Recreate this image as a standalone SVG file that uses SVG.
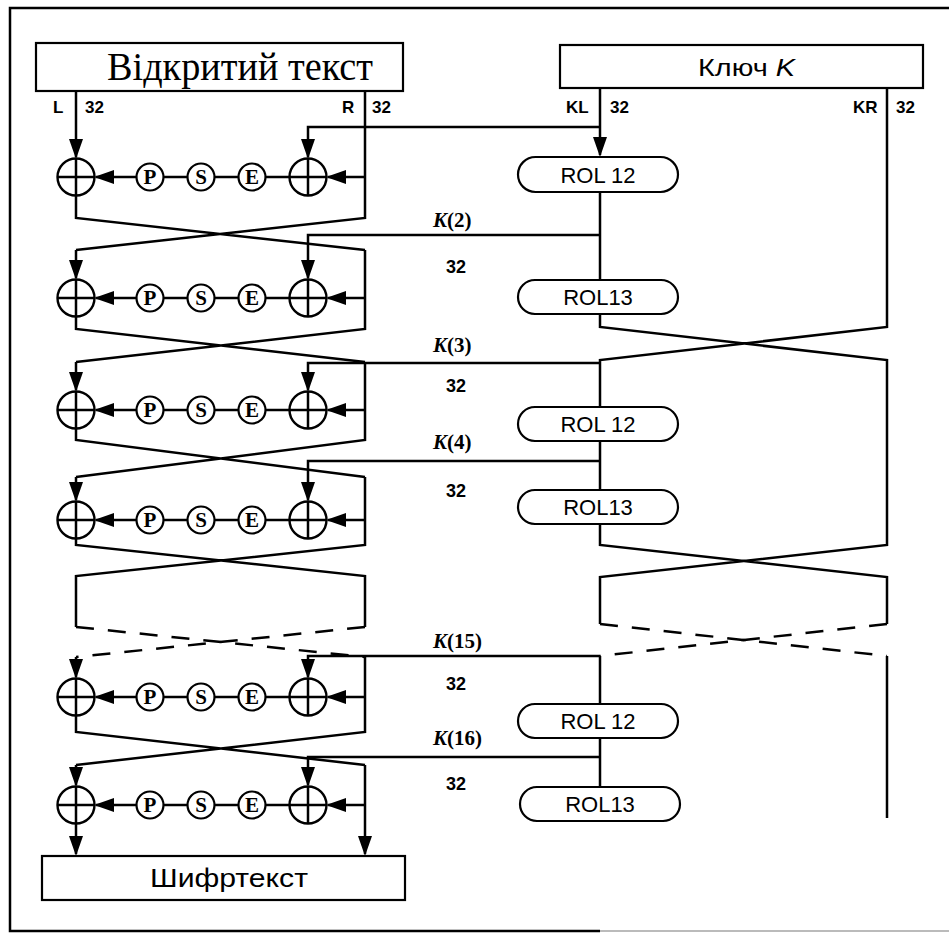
<svg xmlns="http://www.w3.org/2000/svg" width="949" height="937" viewBox="0 0 949 937">
<style>
.ln{fill:none;stroke:#000;stroke-width:2.5}
.ds{fill:none;stroke:#000;stroke-width:2.5;stroke-dasharray:18 14}
.box{fill:#fff;stroke:#000;stroke-width:2.2}
.xor{fill:#fff;stroke:#000;stroke-width:2.4}
.fn{fill:#fff;stroke:#000;stroke-width:2.2}
.ft{font-family:"Liberation Serif",serif;font-weight:bold;font-size:21px;text-anchor:middle}
.lb{font-family:"Liberation Sans",Arial,sans-serif;font-weight:bold;font-size:17px}
.n32{font-family:"Liberation Sans",Arial,sans-serif;font-weight:bold;font-size:18px;text-anchor:middle}
.kl{font-family:"Liberation Serif",serif;font-weight:bold;font-size:21px}
.rol{font-family:"Liberation Sans",Arial,sans-serif;font-size:22px;text-anchor:middle}
.ser{font-family:"Liberation Serif","Times New Roman",serif;font-size:39px}
.san{font-family:"Liberation Sans",Arial,sans-serif}
</style>
<defs>
<marker id="ah" viewBox="0 0 20 14" refX="18" refY="7" markerWidth="20" markerHeight="14" markerUnits="userSpaceOnUse" orient="auto">
<path d="M0,0 L20,7 L0,14 z" fill="#000"/>
</marker>
<g id="xorSym">
<circle class="xor" cx="0" cy="0" r="18.5"/>
<path class="ln" d="M-18.5,0 H18.5 M0,-18.5 V18.5"/>
</g>
</defs>
<rect width="949" height="937" fill="#fff"/>

<!-- frame -->
<path class="ln" d="M949,8 H10 V931 H600"/>
<path d="M600,931 H949" fill="none" stroke="#bbb" stroke-width="2"/>

<!-- boxes -->
<g id="plaintext">
<rect class="box" x="36" y="43" width="367" height="48"/>
<text class="ser" x="107" y="80" textLength="266" lengthAdjust="spacingAndGlyphs">Відкритий текст</text>
</g>
<g id="key">
<rect class="box" x="560" y="45" width="363" height="43"/>
<text class="san" x="698" y="76" font-size="24" textLength="97" lengthAdjust="spacingAndGlyphs">Ключ <tspan font-style="italic">K</tspan></text>
</g>
<g id="ciphertext">
<rect class="box" x="42" y="856" width="363" height="44"/>
<text class="san" x="150" y="887" font-size="25" textLength="158" lengthAdjust="spacingAndGlyphs">Шифртекст</text>
</g>

<!-- labels -->
<g id="labels">
<text class="lb" x="53" y="113">L</text>
<text class="lb" x="85" y="113">32</text>
<text class="lb" x="342" y="113">R</text>
<text class="lb" x="372" y="113">32</text>
<text class="lb" x="566" y="113">KL</text>
<text class="lb" x="610" y="113">32</text>
<text class="lb" x="853" y="113">KR</text>
<text class="lb" x="896" y="113">32</text>
<text class="kl" x="433" y="227"><tspan font-style="italic">K</tspan>(2)</text>
<text class="kl" x="433" y="352"><tspan font-style="italic">K</tspan>(3)</text>
<text class="kl" x="433" y="449"><tspan font-style="italic">K</tspan>(4)</text>
<text class="kl" x="433" y="648"><tspan font-style="italic">K</tspan>(15)</text>
<text class="kl" x="433" y="745"><tspan font-style="italic">K</tspan>(16)</text>
<text class="n32" x="456" y="273">32</text>
<text class="n32" x="456" y="392">32</text>
<text class="n32" x="456" y="497">32</text>
<text class="n32" x="456" y="690">32</text>
<text class="n32" x="456" y="790">32</text>
</g>

<!-- connectors -->
<g id="connectors">
<!-- round 1 -->
<path class="ln" d="M76,91 V157" marker-end="url(#ah)"/>
<path class="ln" d="M76,195 V218 L365,250 M365,91 V218 L76,250"/>
<path class="ln" d="M365,177 H328" marker-end="url(#ah)"/>
<path class="ln" d="M600,127 H308 V157" marker-end="url(#ah)"/>
<path class="ln" d="M137,177 H96" marker-end="url(#ah)"/>
<path class="ln" d="M163,177 H188 M214,177 H239 M265,177 H290"/>
<!-- round 2 -->
<path class="ln" d="M76,250 V278" marker-end="url(#ah)"/>
<path class="ln" d="M76,316 V329 L365,362 M365,250 V329 L76,362"/>
<path class="ln" d="M365,298 H328" marker-end="url(#ah)"/>
<path class="ln" d="M600,235 H308 V278" marker-end="url(#ah)"/>
<path class="ln" d="M137,298 H96" marker-end="url(#ah)"/>
<path class="ln" d="M163,298 H188 M214,298 H239 M265,298 H290"/>
<!-- round 3 -->
<path class="ln" d="M76,362 V390" marker-end="url(#ah)"/>
<path class="ln" d="M76,428 V440 L365,477 M365,362 V440 L76,477"/>
<path class="ln" d="M365,410 H328" marker-end="url(#ah)"/>
<path class="ln" d="M600,363 H308 V390" marker-end="url(#ah)"/>
<path class="ln" d="M137,410 H96" marker-end="url(#ah)"/>
<path class="ln" d="M163,410 H188 M214,410 H239 M265,410 H290"/>
<!-- round 4 -->
<path class="ln" d="M76,477 V500" marker-end="url(#ah)"/>
<path class="ln" d="M76,538 V545 L365,576 V627 M365,477 V545 L76,576 V627"/>
<path class="ln" d="M365,520 H328" marker-end="url(#ah)"/>
<path class="ln" d="M600,461 H308 V500" marker-end="url(#ah)"/>
<path class="ln" d="M137,520 H96" marker-end="url(#ah)"/>
<path class="ln" d="M163,520 H188 M214,520 H239 M265,520 H290"/>
<!-- dashed skip -->
<path class="ds" d="M76,627 L365,657 M365,627 L76,657"/>
<!-- round 15 -->
<path class="ln" d="M76,657 V677" marker-end="url(#ah)"/>
<path class="ln" d="M76,715 V732 L365,765 M365,657 V732 L76,765"/>
<path class="ln" d="M365,697 H328" marker-end="url(#ah)"/>
<path class="ln" d="M600,656 H308 V677" marker-end="url(#ah)"/>
<path class="ln" d="M137,697 H96" marker-end="url(#ah)"/>
<path class="ln" d="M163,697 H188 M214,697 H239 M265,697 H290"/>
<!-- round 16 -->
<path class="ln" d="M76,765 V785" marker-end="url(#ah)"/>
<path class="ln" d="M76,823 V854" marker-end="url(#ah)"/>
<path class="ln" d="M365,765 V854" marker-end="url(#ah)"/>
<path class="ln" d="M365,805 H328" marker-end="url(#ah)"/>
<path class="ln" d="M600,757 H308 V785" marker-end="url(#ah)"/>
<path class="ln" d="M137,805 H96" marker-end="url(#ah)"/>
<path class="ln" d="M163,805 H188 M214,805 H239 M265,805 H290"/>
<!-- key schedule -->
<path class="ln" d="M600,88 V155" marker-end="url(#ah)"/>
<path class="ln" d="M600,192 V280 M600,314 V327 L887,360 V545 L600,577 V624 M887,88 V327 L600,360 V407 M600,441 V490 M600,524 V545 L887,577 V624"/>
<path class="ds" d="M600,624 L887,656 M887,624 L600,656"/>
<path class="ln" d="M600,656 V704 M600,738 V787 M887,656 V818"/>
</g>

<!-- XOR nodes -->
<g id="xor1L"><use href="#xorSym" x="76" y="177"/></g>
<g id="xor1R"><use href="#xorSym" x="308" y="177"/></g>
<g id="xor2L"><use href="#xorSym" x="76" y="298"/></g>
<g id="xor2R"><use href="#xorSym" x="308" y="298"/></g>
<g id="xor3L"><use href="#xorSym" x="76" y="410"/></g>
<g id="xor3R"><use href="#xorSym" x="308" y="410"/></g>
<g id="xor4L"><use href="#xorSym" x="76" y="520"/></g>
<g id="xor4R"><use href="#xorSym" x="308" y="520"/></g>
<g id="xor15L"><use href="#xorSym" x="76" y="697"/></g>
<g id="xor15R"><use href="#xorSym" x="308" y="697"/></g>
<g id="xor16L"><use href="#xorSym" x="76" y="805"/></g>
<g id="xor16R"><use href="#xorSym" x="308" y="805"/></g>

<!-- P S E nodes -->
<g id="pse1">
<circle class="fn" cx="150" cy="177" r="13.5"/><text class="ft" x="150" y="184">P</text>
<circle class="fn" cx="201" cy="177" r="13.5"/><text class="ft" x="201" y="184">S</text>
<circle class="fn" cx="252" cy="177" r="13.5"/><text class="ft" x="252" y="184">E</text>
</g>
<g id="pse2">
<circle class="fn" cx="150" cy="298" r="13.5"/><text class="ft" x="150" y="305">P</text>
<circle class="fn" cx="201" cy="298" r="13.5"/><text class="ft" x="201" y="305">S</text>
<circle class="fn" cx="252" cy="298" r="13.5"/><text class="ft" x="252" y="305">E</text>
</g>
<g id="pse3">
<circle class="fn" cx="150" cy="410" r="13.5"/><text class="ft" x="150" y="417">P</text>
<circle class="fn" cx="201" cy="410" r="13.5"/><text class="ft" x="201" y="417">S</text>
<circle class="fn" cx="252" cy="410" r="13.5"/><text class="ft" x="252" y="417">E</text>
</g>
<g id="pse4">
<circle class="fn" cx="150" cy="520" r="13.5"/><text class="ft" x="150" y="527">P</text>
<circle class="fn" cx="201" cy="520" r="13.5"/><text class="ft" x="201" y="527">S</text>
<circle class="fn" cx="252" cy="520" r="13.5"/><text class="ft" x="252" y="527">E</text>
</g>
<g id="pse15">
<circle class="fn" cx="150" cy="697" r="13.5"/><text class="ft" x="150" y="704">P</text>
<circle class="fn" cx="201" cy="697" r="13.5"/><text class="ft" x="201" y="704">S</text>
<circle class="fn" cx="252" cy="697" r="13.5"/><text class="ft" x="252" y="704">E</text>
</g>
<g id="pse16">
<circle class="fn" cx="150" cy="805" r="13.5"/><text class="ft" x="150" y="812">P</text>
<circle class="fn" cx="201" cy="805" r="13.5"/><text class="ft" x="201" y="812">S</text>
<circle class="fn" cx="252" cy="805" r="13.5"/><text class="ft" x="252" y="812">E</text>
</g>

<!-- ROL nodes -->
<g id="rol1"><rect class="fn" x="518" y="157" width="160" height="35" rx="17.5"/><text class="rol" x="598" y="183">ROL 12</text></g>
<g id="rol2"><rect class="fn" x="518" y="280" width="160" height="34" rx="17"/><text class="rol" x="598" y="305">ROL13</text></g>
<g id="rol3"><rect class="fn" x="518" y="407" width="160" height="34" rx="17"/><text class="rol" x="598" y="432">ROL 12</text></g>
<g id="rol4"><rect class="fn" x="518" y="490" width="160" height="34" rx="17"/><text class="rol" x="598" y="515">ROL13</text></g>
<g id="rol15"><rect class="fn" x="518" y="704" width="160" height="34" rx="17"/><text class="rol" x="598" y="729">ROL 12</text></g>
<g id="rol16"><rect class="fn" x="520" y="787" width="160" height="34" rx="17"/><text class="rol" x="600" y="812">ROL13</text></g>
</svg>
